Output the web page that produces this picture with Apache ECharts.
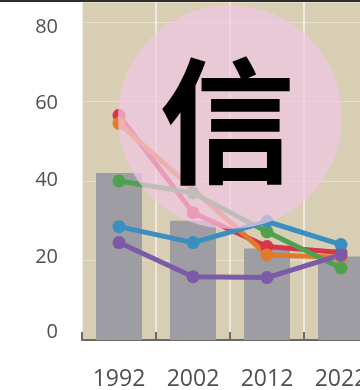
<!DOCTYPE html>
<html>
<head>
<meta charset="utf-8">
<script src="https://cdn.jsdelivr.net/npm/echarts@6/dist/echarts.min.js"></script>
<style>
html,body{margin:0;padding:0;background:#fff;}
#c{width:360px;height:390px;}
</style>
</head>
<body>
<div id="c"></div>
<script>
var categories = ['1992', '2002', '2012', '2022'];
var yTicks = [0, 20, 40, 60, 80];
var barValues = [42, 30, 23, 21];
var redValues = [56.5, 32, 23.5, 22];
var orangeValues = [54.5, null, 21.4, 20.8];
var greenValues = [40, 37, 27.2, 18.1];
var blueValues = [28.5, 24.5, 29.8, 24];
var purpleValues = [24.5, 15.9, 15.7, 21.4];

var chart = echarts.init(document.getElementById('c'));

function lineSeries(name, data, color) {
  return {
    name: name, type: 'line', data: data, connectNulls: true,
    symbol: 'circle', symbolSize: 13,
    lineStyle: { color: color, width: 5 },
    itemStyle: { color: color },
    z: 3
  };
}

// label vertical nudges (rich padding) so the tick labels sit like the reference
var labelRich = {
  t80: { padding: [10, 0, 0, 0] },
  t60: { padding: [3, 0, 0, 0] },
  t40: { padding: [0, 0, 2, 0] },
  t20: { padding: [0, 0, 7, 0] },
  t0: { padding: [0, 0, 16, 0] }
};
for (var k in labelRich) {
  labelRich[k].color = '#505050';
  labelRich[k].fontSize = 20;
  labelRich[k].fontFamily = 'Open Sans';
}

chart.setOption({
  animation: false,
  backgroundColor: '#ffffff',
  grid: {
    left: 82, top: 2, width: 296, height: 338,
    outerBoundsMode: 'none', containLabel: false,
    show: true, backgroundColor: '#d7ceb3', borderWidth: 0
  },
  xAxis: {
    type: 'category', data: categories, boundaryGap: true,
    axisLine: { show: true, lineStyle: { color: '#6a6a6a', width: 2 } },
    axisTick: { show: true, inside: true, length: 8, lineStyle: { color: '#6a6a6a', width: 2 } },
    axisLabel: { color: '#505050', fontSize: 23, fontFamily: 'Open Sans', margin: 28, hideOverlap: false },
    splitLine: { show: true, lineStyle: { color: 'rgba(255,255,255,0.55)', width: 2 } }
  },
  yAxis: {
    type: 'value', min: 0, max: 85, interval: 20,
    axisLine: { show: false }, axisTick: { show: false },
    axisLabel: { color: '#505050', fontSize: 20, fontFamily: 'Open Sans', margin: 24, showMaxLabel: false,
      rich: labelRich,
      formatter: function (v) { return yTicks.indexOf(v) >= 0 ? '{t' + v + '|' + v + '}' : ''; } },
    splitLine: { show: true, lineStyle: { color: 'rgba(240,235,215,0.6)', width: 1 } }
  },
  graphic: [
    { type: 'rect', shape: { x: 0, y: 0, width: 360, height: 2 }, style: { fill: '#2e2e2e' }, z: 20 },
    { type: 'circle', shape: { cx: 230, cy: 117, r: 112 }, style: { fill: 'rgba(241,199,229,0.7)' }, z: 10 },
    { type: 'text', x: 227, y: 121, style: { text: '信', fontSize: 136, fontWeight: 'bold',
      fontFamily: 'Noto Sans CJK SC', fill: '#000', align: 'center', verticalAlign: 'middle' }, z: 11 }
  ],
  series: [
    { name: 'bar', type: 'bar', data: barValues, barWidth: 46,
      itemStyle: { color: '#9e9da3' }, z: 2 },
    lineSeries('red', redValues, '#d8344c'),
    lineSeries('orange', orangeValues, '#e27a2c'),
    lineSeries('green', greenValues, '#4fa04f'),
    lineSeries('blue', blueValues, '#3a8fc0'),
    lineSeries('purple', purpleValues, '#7b5ba7')
  ]
});
</script>
</body>
</html>
